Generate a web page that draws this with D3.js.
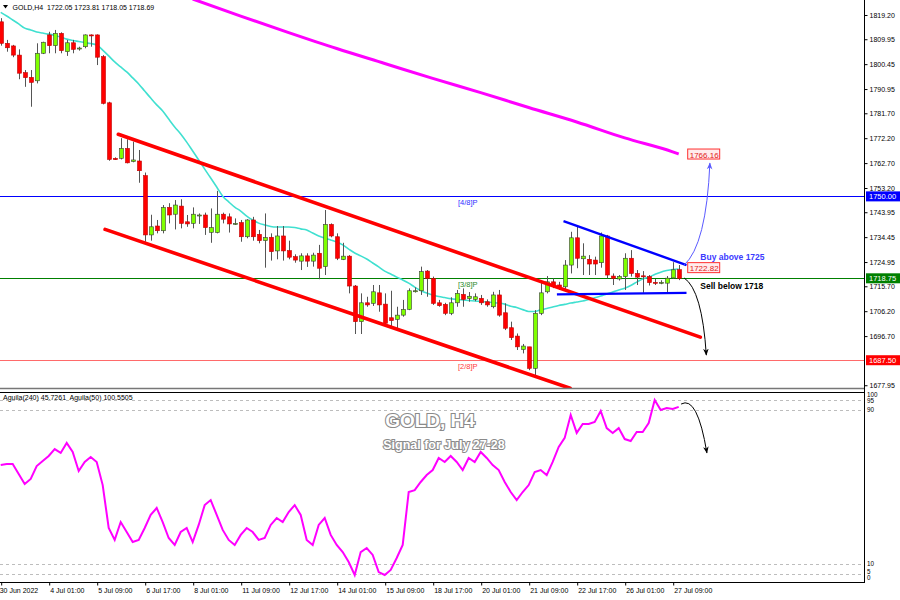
<!DOCTYPE html>
<html><head><meta charset="utf-8">
<script src="https://cdn.jsdelivr.net/npm/d3@7"></script>
<style>body{margin:0;background:#fff}svg{display:block}text{font-family:"Liberation Sans",Arial,sans-serif}</style>
</head><body><svg id="c" width="900" height="600"></svg>
<script>
// ---------- DATA ----------
const opens=[1816.6,1808.4,1807.4,1803.9,1797.2,1795.4,1794.1,1804.6,1811.6,1807.5,1812.2,1805.2,1808.6,1806.3,1807.1,1811.6,1811.6,1803.3,1785.7,1764.5,1764.5,1768.3,1763.3,1763.5,1757.9,1735.3,1738.7,1736.9,1745.8,1743.2,1746.3,1740.3,1739.7,1742.9,1742.9,1736.3,1736.2,1743.2,1742.2,1739.7,1740.0,1734.6,1741.0,1735.5,1733.1,1734.4,1729.2,1734.9,1729.3,1727.0,1725.3,1727.3,1725.3,1728.3,1723.2,1739.3,1734.6,1725.9,1727.2,1715.8,1702.2,1709.4,1709.2,1713.2,1708.9,1703.7,1703.1,1704.7,1706.9,1713.8,1714.0,1721.5,1718.7,1709.4,1708.8,1705.4,1709.4,1712.6,1711.0,1710.7,1711.1,1709.8,1707.9,1712.4,1705.6,1699.9,1696.7,1691.6,1692.6,1684.4,1705.4,1713.6,1717.4,1716.2,1715.5,1723.8,1734.2,1726.2,1726.0,1725.7,1724.7,1734.9,1719.6,1718.5,1719.4,1726.4,1720.6,1719.7,1719.4,1717.2,1717.0,1716.9,1718.9,1722.05];
const highs=[1818.0,1809.7,1807.8,1806.1,1798.2,1798.2,1808.4,1809.0,1812.8,1813.5,1812.6,1809.7,1809.7,1807.1,1811.8,1811.8,1811.8,1803.9,1786.1,1764.9,1772.2,1771.8,1770.9,1767.7,1759.1,1743.0,1741.0,1746.7,1747.4,1748.6,1748.9,1742.9,1745.8,1743.5,1743.8,1745.4,1752.1,1743.8,1743.5,1741.6,1741.0,1741.3,1742.2,1737.2,1743.5,1735.9,1738.7,1738.7,1733.1,1727.9,1728.3,1728.3,1728.5,1731.5,1744.8,1739.7,1735.9,1732.3,1727.6,1716.2,1713.0,1711.7,1716.2,1716.2,1713.0,1714.0,1707.9,1710.5,1714.9,1715.3,1723.2,1721.9,1719.4,1710.5,1709.4,1711.5,1714.3,1714.9,1713.5,1713.0,1712.4,1710.7,1713.6,1714.3,1709.2,1702.2,1697.7,1693.7,1692.6,1706.6,1717.4,1719.6,1718.7,1717.4,1725.7,1736.5,1738.4,1732.1,1727.6,1727.0,1736.2,1735.3,1720.6,1720.0,1728.3,1729.5,1721.9,1721.5,1720.0,1718.5,1718.0,1719.6,1724.9,1723.81];
const lows=[1807.5,1805.2,1803.1,1794.7,1791.8,1784.2,1793.1,1804.3,1804.6,1804.6,1804.6,1803.6,1804.6,1805.6,1806.5,1807.1,1800.1,1785.1,1763.6,1763.9,1764.1,1762.6,1763.0,1755.2,1732.7,1733.1,1735.9,1735.9,1739.7,1737.4,1737.8,1738.4,1737.8,1739.5,1735.3,1732.3,1735.9,1739.7,1736.2,1739.1,1732.7,1734.0,1733.1,1732.1,1722.8,1725.5,1726.0,1725.5,1726.0,1724.7,1721.9,1723.1,1723.2,1718.4,1720.0,1734.4,1725.7,1725.7,1713.0,1697.5,1697.5,1707.9,1708.2,1706.0,1700.5,1700.5,1699.7,1704.1,1706.6,1713.3,1712.4,1711.7,1708.6,1707.9,1704.7,1704.7,1707.9,1707.9,1709.8,1710.0,1708.6,1707.9,1707.3,1704.1,1699.0,1695.2,1691.4,1690.1,1683.7,1681.2,1704.7,1713.0,1715.0,1714.3,1714.3,1720.6,1722.6,1720.0,1720.0,1720.0,1722.8,1718.7,1716.2,1717.9,1714.3,1719.4,1716.2,1713.2,1716.0,1716.2,1716.5,1713.2,1718.6,1718.05];
const closes=[1808.4,1806.7,1803.9,1797.0,1795.3,1793.5,1804.6,1808.8,1807.5,1812.2,1805.6,1808.6,1806.1,1806.6,1811.6,1811.4,1803.1,1785.5,1764.1,1764.0,1768.3,1762.8,1763.9,1759.8,1735.3,1738.4,1736.9,1745.8,1742.9,1746.7,1739.7,1739.5,1743.2,1742.9,1738.1,1738.1,1743.2,1741.3,1739.5,1739.7,1734.6,1741.0,1734.6,1733.1,1734.3,1728.9,1734.9,1729.2,1726.8,1725.7,1727.3,1725.3,1727.6,1722.6,1739.3,1734.9,1726.4,1727.2,1715.8,1702.2,1709.4,1708.6,1713.6,1708.6,1701.6,1702.6,1704.7,1706.9,1714.0,1714.0,1721.3,1718.7,1709.2,1708.3,1705.4,1709.4,1713.0,1710.7,1711.9,1711.7,1709.4,1708.6,1712.4,1704.7,1699.7,1696.1,1692.6,1692.9,1684.4,1705.4,1713.2,1717.4,1716.2,1715.3,1723.8,1734.2,1726.4,1727.2,1724.2,1724.2,1734.9,1720.0,1718.7,1719.5,1726.4,1720.6,1719.2,1719.6,1717.1,1717.0,1717.2,1718.8,1722.0,1718.69];
// fast moving average (cyan), one value per bar
const maFast=[1820.2,1818.8,1817.3,1815.8,1814.2,1813.5,1812.7,1812.3,1811.9,1811.4,1810.8,1810.0,1809.5,1809.1,1808.7,1808.3,1807.8,1805.8,1803.6,1801.3,1799.4,1797.5,1795.2,1792.9,1790.2,1787.5,1784.9,1782.6,1779.5,1776.5,1773.8,1770.7,1767.3,1763.9,1760.4,1757.0,1753.6,1750.1,1747.9,1745.9,1744.4,1742.5,1741.0,1739.8,1739.1,1738.5,1738.3,1738.3,1738.3,1738.1,1737.6,1737.2,1736.0,1734.9,1734.1,1733.4,1732.6,1731.5,1729.9,1728.4,1727.3,1726.1,1724.6,1723.1,1721.5,1720.4,1719.2,1718.1,1716.9,1715.4,1714.1,1713.1,1712.4,1711.8,1711.4,1711.0,1710.7,1710.5,1710.3,1710.1,1709.9,1709.7,1709.5,1709.3,1708.9,1708.1,1707.6,1706.8,1706.1,1706.1,1706.7,1707.2,1707.8,1708.4,1708.8,1709.3,1709.7,1710.1,1710.7,1711.3,1712.0,1712.8,1713.5,1714.3,1715.0,1716.0,1717.3,1718.5,1719.2,1720.2,1721.1,1721.7,1722.1,1722.3];
// slow moving average (magenta)
const maSlowIdx=[32,40,48,56,64,72,80,88,96,104,112,113];
const maSlow=[1825.3,1818.8,1812.5,1806.4,1800.7,1795.0,1789.6,1783.9,1778.4,1772.3,1767.0,1766.16];
// Aguila(50) oscillator
const aguila=[61.4,61.9,61.9,56.8,51.6,54.2,60.9,63.5,66.1,69.7,67.7,72.9,68.2,58.3,63.0,65.6,63.0,51.0,28.7,22.5,31.8,26.6,21.4,22.5,28.7,35.5,39.1,31.8,23.5,19.9,26.6,28.7,21.4,30.3,40.6,43.2,35.5,27.7,22.5,19.9,25.1,28.7,26.6,22.5,23.5,30.3,33.9,31.8,37.0,40.6,35.5,22.5,19.9,30.3,33.9,25.1,19.9,16.2,11.0,4.3,16.2,18.3,14.7,5.8,4.3,6.9,13.1,19.9,47.4,48.4,52.6,56.2,58.8,65.1,63.0,66.1,63.0,58.8,65.1,63.0,68.2,65.1,61.4,58.8,52.6,47.4,43.2,47.4,51.0,57.8,58.8,56.2,63.0,70.8,75.5,87.4,78.1,82.7,82.7,83.8,89.5,80.6,78.1,80.6,74.9,73.9,78.6,78.6,83.2,95.2,90.0,91.0,90.5,91.6];
const aguilaLevels=[95,90,10,5];
const aguilaScaleLabels=[100,95,90,10,5,0];
// price axis
const priceTicks=[1819.20,1809.95,1800.45,1790.95,1781.70,1772.20,1762.70,1753.20,1743.95,1734.45,1724.95,1715.70,1706.20,1696.70,1677.95];
// time axis
const timeTickIdx=[0,8,16,24,32,40,48,56,64,72,80,88,96,104,112];
const timeLabels=["30 Jun 2022","4 Jul 01:00","5 Jul 09:00","6 Jul 17:00","8 Jul 01:00","11 Jul 09:00","12 Jul 17:00","14 Jul 01:00","15 Jul 09:00","18 Jul 17:00","20 Jul 01:00","21 Jul 09:00","22 Jul 17:00","26 Jul 01:00","27 Jul 09:00"];
// Murrey math levels
const murreyPrices=[1750.00,1718.75,1687.50];
const murreyLabels=["[4/8]P","[3/8]P","[2/8]P"];
// trend lines: [bar index, price]
const channelUpper=[[19.6,1773.7],[116.6,1696.3]];
const channelLower=[[17.4,1737.4],[94.9,1676.8]];
const triUpper=[[93.8,1740.6],[114.3,1723.8]];
const triLower=[[92.7,1712.6],[114.3,1713.2]];
// arrows: start, control, end
const arrowBuy=[[113.9,1723.8],[117.6,1731.4],[118.2,1762.7]];
const arrowSell=[[113.9,1718.9],[116.9,1714.3],[117.6,1689.5]];
const arrowOsc=[[113.4,93.1],[116.1,97.8],[117.7,67.7]];
// price tags
const tagPrices=[1766.16,1722.82];
const header="GOLD,H4  1722.05 1723.81 1718.05 1718.69";
const indHeader="Aguila(240) 45.7261  Aguila(50) 100.5505";

// ---------- CHART ----------
const W=900,H=600,R=864,mainBot=388,indTop=392,indBot=582;
const svg=d3.select("#c");
svg.append("rect").attr("width",W).attr("height",H).attr("fill","#fff");
const x=d3.scaleLinear().domain([0,113]).range([0.7,678.7]);
const y=d3.scaleLinear().domain([1819.2,1753.2]).range([15,188]);
const yi=d3.scaleLinear().domain([90,10]).range([410,564]);
const defs=svg.append("defs");
defs.append("clipPath").attr("id","cm").append("rect").attr("x",0).attr("y",0).attr("width",R).attr("height",mainBot);
defs.append("clipPath").attr("id","ci").append("rect").attr("x",0).attr("y",indTop).attr("width",R).attr("height",indBot-indTop);
function marker(id,col){
  defs.append("marker").attr("id",id).attr("viewBox","0 0 10 10").attr("refX",9).attr("refY",5)
   .attr("markerWidth",7).attr("markerHeight",7).attr("orient","auto-start-reverse")
   .append("path").attr("d","M0,1 L10,5 L0,9 L3,5 z").attr("fill",col);
}
marker("ab","#5a5aff");marker("ak","#000");

const main=svg.append("g").attr("clip-path","url(#cm)");
const murreyColors=["#0000ff","#008000","#ff6a6a"];
const murreyTextCols=["#3030ff","#2a8a2a","#ff3a3a"];
murreyPrices.forEach((p,k)=>{
  main.append("line").attr("x1",0).attr("x2",R).attr("y1",Math.round(y(p))+0.5).attr("y2",Math.round(y(p))+0.5)
   .attr("stroke",murreyColors[k]).attr("stroke-width",1);
  main.append("text").attr("x",458).attr("y",y(p)+9).attr("font-size",7.5).attr("fill",murreyTextCols[k]).text(murreyLabels[k]);
});

// slow MA
const lineP=d3.line().x(d=>x(d[0])).y(d=>y(d[1])).curve(d3.curveMonotoneX);
main.append("path").datum(maSlowIdx.map((d,k)=>[d,maSlow[k]])).attr("d",lineP)
 .attr("fill","none").attr("stroke","#ff00ff").attr("stroke-width",3);
// fast MA
main.append("path").datum(maFast.map((d,k)=>[k,d])).attr("d",lineP)
 .attr("fill","none").attr("stroke","#40e0d0").attr("stroke-width",1.6);

// candles
const cg=main.append("g");
opens.forEach((o,k)=>{
  const c=closes[k], cx=Math.round(x(k));
  cg.append("line").attr("x1",cx+0.5).attr("x2",cx+0.5).attr("y1",y(highs[k])).attr("y2",y(lows[k]))
    .attr("stroke","#555").attr("stroke-width",1);
  const top=y(Math.max(o,c)), h=Math.max(1,Math.abs(y(o)-y(c)));
  const up=c>=o;
  cg.append("rect").attr("x",cx-1.5).attr("y",top).attr("width",4).attr("height",h)
    .attr("fill",up?"#7fff00":"#ff0000").attr("stroke",up?"#3a3a3a":"#c00000").attr("stroke-width",0.6);
});

// channel & triangle
const lin=d3.line().x(d=>x(d[0])).y(d=>y(d[1]));
[channelUpper,channelLower].forEach(l=>main.append("path").attr("d",lin(l)).attr("stroke","#ff0000").attr("stroke-width",3.6).attr("stroke-linecap","round").attr("fill","none"));
[triUpper,triLower].forEach(l=>main.append("path").attr("d",lin(l)).attr("stroke","#0000ff").attr("stroke-width",2.4).attr("fill","none"));

// arrows
function qpath(a,sy){return `M${x(a[0][0])},${sy(a[0][1])} Q${x(a[1][0])},${sy(a[1][1])} ${x(a[2][0])},${sy(a[2][1])}`;}
main.append("path").attr("d",qpath(arrowBuy,y)).attr("stroke","#5a5aff").attr("fill","none").attr("stroke-width",1).attr("marker-end","url(#ab)");
main.append("path").attr("d",qpath(arrowSell,y)).attr("stroke","#000").attr("fill","none").attr("stroke-width",1).attr("marker-end","url(#ak)");

// annotations
main.append("text").attr("x",x(116.6)).attr("y",y(1726.9)+3).attr("font-size",8.5).attr("font-weight","bold").attr("fill","#3b3bff").text("Buy above 1725");
main.append("text").attr("x",x(116.6)).attr("y",y(1715.8)+3).attr("font-size",8.5).attr("font-weight","bold").attr("fill","#000").text("Sell below 1718");
tagPrices.forEach(p=>{
  const tx=x(113)+9, ty=y(p);
  main.append("rect").attr("x",tx).attr("y",ty-5).attr("width",32).attr("height",10).attr("fill","#ffecec").attr("stroke","#ff3030").attr("stroke-width",1);
  main.append("text").attr("x",tx+2).attr("y",ty+3.5).attr("font-size",8).attr("fill","#e02020").text(p.toFixed(2));
});

// header
svg.append("path").attr("d","M3,5 L8,5 L5.5,8.5 z").attr("fill","#000");
svg.append("text").attr("x",12.5).attr("y",10).attr("font-size",7).attr("fill","#000").style("white-space","pre").text(header);

// ---------- indicator ----------
const ind=svg.append("g").attr("clip-path","url(#ci)");
aguilaLevels.forEach(v=>ind.append("line").attr("x1",0).attr("x2",R).attr("y1",Math.round(yi(v))+0.5).attr("y2",Math.round(yi(v))+0.5)
  .attr("stroke","#bdbdbd").attr("stroke-dasharray","3,3"));
ind.append("path").datum(aguila).attr("d",d3.line().x((d,k)=>x(k)).y(d=>yi(d)))
  .attr("fill","none").attr("stroke","#ff00ff").attr("stroke-width",2);
ind.append("path").attr("d",qpath(arrowOsc,yi)).attr("stroke","#000").attr("fill","none").attr("stroke-width",1).attr("marker-end","url(#ak)");
ind.append("text").attr("x",430).attr("y",427).attr("text-anchor","middle").attr("font-size",19).attr("font-weight","bold")
  .attr("fill","#fff").attr("stroke","#8a8a8a").attr("stroke-width",2.2).attr("paint-order","stroke").text("GOLD, H4");
ind.append("text").attr("x",444).attr("y",449).attr("text-anchor","middle").attr("font-size",12.5).attr("font-weight","bold")
  .attr("fill","#fff").attr("stroke","#8a8a8a").attr("stroke-width",2).attr("paint-order","stroke").text("Signal for July 27-28");
svg.append("text").attr("x",3).attr("y",400).attr("font-size",7).attr("fill","#000").style("white-space","pre").text(indHeader);

// ---------- frames ----------
svg.append("line").attr("x1",0).attr("x2",R).attr("y1",mainBot+0.5).attr("y2",mainBot+0.5).attr("stroke","#777").attr("stroke-width",1.5);
svg.append("line").attr("x1",0).attr("x2",R).attr("y1",indTop+0.5).attr("y2",indTop+0.5).attr("stroke","#000");
svg.append("line").attr("x1",0).attr("x2",R+0.5).attr("y1",indBot+0.5).attr("y2",indBot+0.5).attr("stroke","#000");
svg.append("line").attr("x1",R+0.5).attr("x2",R+0.5).attr("y1",0).attr("y2",indBot+1).attr("stroke","#000");

// price axis
const ay=svg.append("g").attr("transform",`translate(${R+0.5},0)`)
 .call(d3.axisRight(y).tickValues(priceTicks).tickSize(3).tickFormat(d3.format(".2f")));
ay.select(".domain").remove();
ay.selectAll("text").attr("font-size",7).attr("font-family","Liberation Sans, Arial").attr("x",5);
const murreyTagCols=["#0000ff","#008000","#ff0000"];
murreyPrices.forEach((p,k)=>{
  svg.append("rect").attr("x",R+2).attr("y",y(p)-5).attr("width",34).attr("height",10).attr("fill",murreyTagCols[k]);
  svg.append("text").attr("x",R+5).attr("y",y(p)+3).attr("font-size",7.5).attr("fill","#fff").text(p.toFixed(2));
});
// indicator scale labels (compact stack at the panel edges)
const labelY={100:395,95:400.5,90:410,10:564,5:571.5,0:578};
aguilaScaleLabels.forEach(v=>{
  svg.append("text").attr("x",R+3).attr("y",labelY[v]+2.3).attr("font-size",6.3).attr("fill","#000").text(v);
});
// time axis
const ax=svg.append("g").attr("transform",`translate(0,${indBot+0.5})`)
 .call(d3.axisBottom(x).tickValues(timeTickIdx).tickSize(3).tickFormat((d,k)=>timeLabels[k]));
ax.select(".domain").remove();
ax.selectAll(".tick line").attr("transform","translate(0.5,0)");
ax.selectAll("text").attr("font-size",7).attr("font-family","Liberation Sans, Arial").attr("text-anchor","start")
  .attr("dx",(d,k)=>k===0?-1.5:1).attr("y",6);
</script></body></html>
